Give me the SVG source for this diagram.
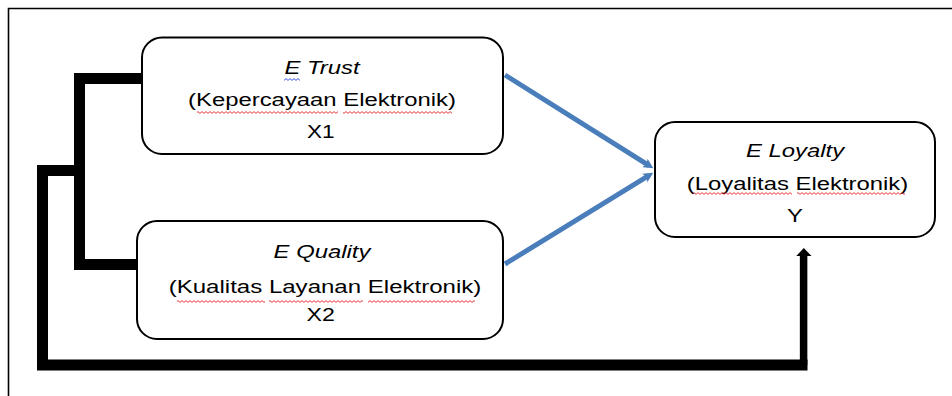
<svg xmlns="http://www.w3.org/2000/svg" width="952" height="396" viewBox="0 0 952 396">
  <style>
    .box { fill: #ffffff; stroke: #000000; stroke-width: 2; }
    .t { font-family: "Liberation Sans", Arial, sans-serif; font-size: 18.5px; fill: #000000; text-anchor: middle; }
    .it { font-style: italic; }
    .thick { fill: none; stroke: #000000; stroke-linejoin: miter; stroke-linecap: butt; }
    .blue { fill: none; stroke: #4a7ebb; stroke-width: 5; stroke-linecap: butt; }
    .frame { fill: none; stroke: #000000; stroke-width: 1.6; }
  </style>
  <defs>
    <marker id="blueHead" viewBox="0 0 2 2" refX="1" refY="1" markerWidth="2" markerHeight="2" markerUnits="strokeWidth" orient="auto">
      <path d="M0,0 L2,1 L0,2 L0.4,1 Z" fill="#4a7ebb"/>
    </marker>
    <pattern id="waveRed" patternUnits="userSpaceOnUse" width="4" height="3">
      <path d="M0,2.4 L2,0.6 L4,2.4" fill="none" stroke="#e02020" stroke-width="0.9"/>
    </pattern>
    <pattern id="waveBlue" patternUnits="userSpaceOnUse" width="4" height="3">
      <path d="M0,2.4 L2,0.6 L4,2.4" fill="none" stroke="#2040e0" stroke-width="0.9"/>
    </pattern>
  </defs>

  <!-- outer frame -->
  <path class="frame" d="M8.5,396 V8.5 H952"/>

  <g id="connectors">
    <!-- bracket joining X1 and X2 -->
    <path class="thick" stroke-width="11" d="M142,78.5 H79.5 V264.5 H137"/>
    <!-- path from bracket to Y -->
    <path class="thick" stroke-width="11" d="M79.5,170.5 H42.5 V365 H807.5"/>
    <path class="thick" stroke-width="7.5" d="M803.6,365 V255"/>
    <polygon points="803.8,248 811.5,256 796.3,256" fill="#000000"/>
    <!-- blue arrows -->
    <line class="blue" x1="505" y1="75" x2="649.1" y2="165.6" marker-end="url(#blueHead)"/>
    <line class="blue" x1="505" y1="264" x2="649.0" y2="175.3" marker-end="url(#blueHead)"/>
  </g>

  <g id="node-x1">
    <rect class="box" x="142" y="37.5" width="361" height="116.5" rx="20" ry="20"/>
    <text class="t it" transform="translate(322,74) scale(1.29,1)">E Trust</text>
    <text class="t" transform="translate(322,106) scale(1.29,1)">(Kepercayaan Elektronik)</text>
    <text class="t" transform="translate(320.7,138) scale(1.22,1)">X1</text>
    <rect x="284" y="78" width="16" height="3" fill="url(#waveBlue)"/>
    <rect x="197" y="111" width="141" height="3" fill="url(#waveRed)"/>
    <rect x="343" y="111" width="109" height="3" fill="url(#waveRed)"/>
  </g>

  <g id="node-x2">
    <rect class="box" x="137" y="221" width="366" height="118" rx="20" ry="20"/>
    <text class="t it" transform="translate(322,258) scale(1.29,1)">E Quality</text>
    <text class="t" transform="translate(325,293) scale(1.3,1)">(Kualitas Layanan Elektronik)</text>
    <text class="t" transform="translate(320.7,321) scale(1.25,1)">X2</text>
    <rect x="177" y="300" width="88" height="3" fill="url(#waveRed)"/>
    <rect x="269" y="300" width="94" height="3" fill="url(#waveRed)"/>
    <rect x="368" y="300" width="107" height="3" fill="url(#waveRed)"/>
  </g>

  <g id="node-y">
    <rect class="box" x="655" y="122" width="280" height="115" rx="20" ry="20"/>
    <text class="t it" transform="translate(795,157) scale(1.29,1)">E Loyalty</text>
    <text class="t" transform="translate(797.5,190) scale(1.29,1)">(Loyalitas Elektronik)</text>
    <text class="t" transform="translate(795,221.5) scale(1.29,1)">Y</text>
    <rect x="693" y="192" width="99" height="3" fill="url(#waveRed)"/>
    <rect x="797" y="192" width="108" height="3" fill="url(#waveRed)"/>
  </g>
</svg>
